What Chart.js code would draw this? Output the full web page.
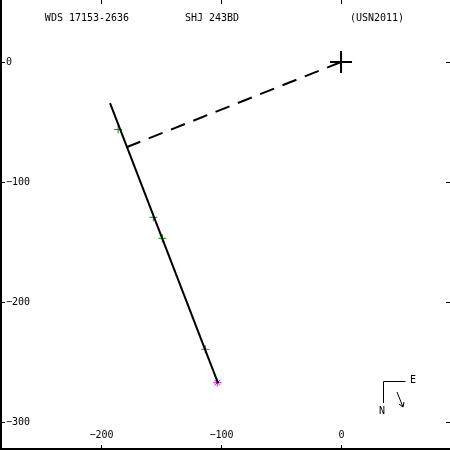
<!DOCTYPE html>
<html>
<head>
<meta charset="utf-8">
<script src="https://cdn.jsdelivr.net/npm/chart.js@4/dist/chart.umd.min.js"></script>
<style>
  html, body { margin: 0; padding: 0; background: #fff; }
  #wrap { width: 450px; height: 450px; }
</style>
</head>
<body>
<div id="wrap"><canvas id="orbita" width="450" height="450"></canvas></div>
<script>
'use strict';

// titulos do topo
const tituloEsq = 'WDS 17153-2636';
const tituloMeio = 'SHJ 243BD';
const tituloDir = '(USN2011)';

// ticks dos eixos
const ticksX = [-200, -100, 0];
const ticksY = [0, -100, -200, -300];

// estrela principal
const principal = [{x: 0, y: 0}];
// movimento linear (inicio e fim)
const linhaOrbita = [{x: -192.5, y: -34.2}, {x: -102.5, y: -267.5}];
// ligacao tracejada ate a orbita
const linhaNodo = [{x: 0, y: 0}, {x: -178.3, y: -70.8}];
// medidas (verde)
const medidasX = [-185.8, -156.4, -148.9, -113.1];
const medidasY = [-56.2, -129.4, -146.9, -239.4];
// ultima medida (magenta)
const ultima = [{x: -103.1, y: -267.2}];

const medidas = medidasX.map((v, i) => ({x: v, y: medidasY[i]}));

const fonte = '10px "DejaVu Sans Mono", monospace';

const moldura = {
    id: 'moldura',
    afterDraw(chart) {
        const ctx = chart.ctx;
        const a = chart.chartArea;
        const sx = chart.scales.x, sy = chart.scales.y;
        ctx.save();
        ctx.strokeStyle = '#000';
        ctx.fillStyle = '#000';
        // so borda esquerda e inferior ficam visiveis
        ctx.lineWidth = 2;
        ctx.beginPath();
        ctx.moveTo(a.left + 1, a.top); ctx.lineTo(a.left + 1, a.bottom - 1); ctx.lineTo(a.right, a.bottom - 1);
        ctx.stroke();

        ctx.lineWidth = 1;
        ctx.font = fonte;
        // ticks X
        ctx.textAlign = 'center';
        ctx.textBaseline = 'middle';
        ticksX.forEach(function(v){
            const px = Math.round(sx.getPixelForValue(v)) + 0.5;
            ctx.beginPath();
            ctx.moveTo(px, a.bottom); ctx.lineTo(px, a.bottom - 5);
            ctx.moveTo(px, a.top); ctx.lineTo(px, a.top + 4);
            ctx.stroke();
            ctx.fillText(String(v).replace('-', '\u2212'), px, a.bottom - 15);
        });
        // ticks Y
        ctx.textAlign = 'left';
        ticksY.forEach(function(v){
            const py = Math.round(sy.getPixelForValue(v)) + 0.5;
            ctx.beginPath();
            ctx.moveTo(a.left, py); ctx.lineTo(a.left + 5, py);
            ctx.moveTo(a.right, py); ctx.lineTo(a.right - 4, py);
            ctx.stroke();
            ctx.fillText(String(v).replace('-', '\u2212'), a.left + 6, py);
        });

        // titulos
        ctx.textAlign = 'center';
        ctx.fillText(tituloEsq, 87, 18);
        ctx.fillText(tituloMeio, 212, 18);
        ctx.fillText(tituloDir, 377, 18);

        // rosa N/E
        ctx.beginPath();
        ctx.moveTo(405.5, 381.5); ctx.lineTo(383.5, 381.5); ctx.lineTo(383.5, 403);
        ctx.moveTo(397, 392); ctx.lineTo(403, 407);
        ctx.moveTo(403, 407); ctx.lineTo(399, 404);
        ctx.moveTo(403, 407); ctx.lineTo(404, 402);
        ctx.stroke();
        ctx.fillText('E', 413, 380);
        ctx.fillText('N', 382, 411);
        ctx.restore();
    }
};

const grafico = new Chart(document.getElementById('orbita'), {
    type: 'scatter',
    data: {
        datasets: [
            {
                data: linhaNodo,
                showLine: true,
                borderColor: '#000',
                borderWidth: 2,
                borderDash: [15, 9],
                pointRadius: 0
            },
            {
                data: linhaOrbita,
                showLine: true,
                borderColor: '#000',
                borderWidth: 2,
                pointRadius: 0
            },
            {
                data: medidas,
                pointStyle: 'cross',
                pointRadius: 4,
                borderColor: '#00a000',
                borderWidth: 1
            },
            {
                data: ultima,
                pointStyle: 'star',
                pointRadius: 4,
                borderColor: '#ff00ff',
                borderWidth: 1
            },
            {
                data: principal,
                pointStyle: 'cross',
                pointRadius: 11,
                borderColor: '#000',
                borderWidth: 2
            }
        ]
    },
    options: {
        responsive: false,
        animation: false,
        layout: { padding: 0, autoPadding: false },
        plugins: {
            legend: { display: false },
            tooltip: { enabled: false }
        },
        scales: {
            x: { type: 'linear', min: -284.2, max: 90.8, display: false },
            y: { type: 'linear', min: -323.3, max: 51.7, display: false }
        }
    },
    plugins: [moldura]
});
</script>
</body>
</html>
